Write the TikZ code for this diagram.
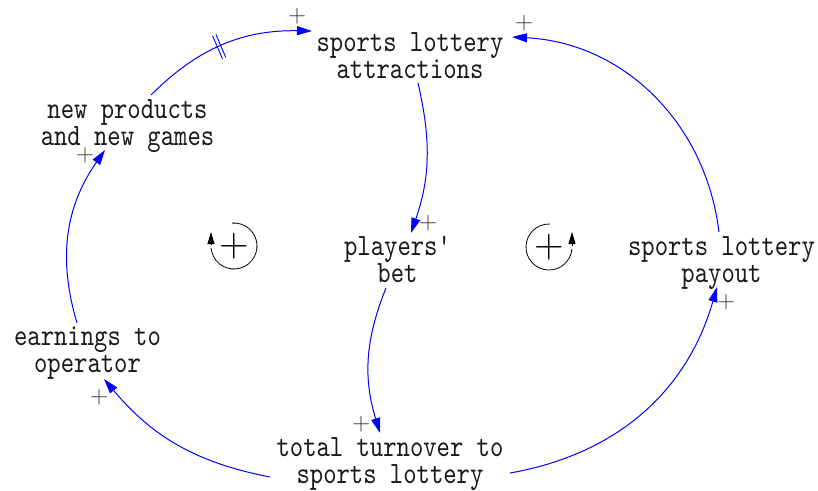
\documentclass[tikz,border=0pt]{standalone}
\usepackage{fontspec}
\usetikzlibrary{arrows.meta,calc,decorations.markings}
\newfontfamily\lblfont{lmmono10-regular.otf}[FakeStretch=0.82]
\newcommand{\lstrut}{\rule[-8pt]{0pt}{27pt}}
\begin{document}
\begin{tikzpicture}[x=1pt,y=1pt,
  var/.style={align=center, inner sep=0pt, text=black!90, font=\lblfont\fontsize{31}{27}\selectfont},
  link/.style={draw=blue, line width=1pt, -{Triangle[length=15pt,width=9pt]}},
  pol/.style={inner sep=0pt, text=black!80, font=\fontsize{25}{25}\selectfont},
  loopsign/.style={inner sep=0pt, font=\fontsize{41}{41}\selectfont},
  looparc/.style={line width=0.8pt},
  looptip/.style={line width=0.8pt, -{Triangle[length=12pt,width=7pt]}},
  delaymark/.style={postaction={decorate, decoration={markings,
     mark=at position #1 with {\draw[blue, line width=0.9pt, -] (-1.8,-12.5)--(-1.8,12.5) (1.8,-12.5)--(1.8,12.5);}}}}
]
\useasboundingbox (0,0) rectangle (818,-490);

% variables
\node[var] (attr)   at (410,-59)    {\lstrut sports lottery\\\lstrut attractions};
\node[var] (newp)   at (127.5,-126) {\lstrut new products\\\lstrut and new games};
\node[var] (bet)    at (397.5,-263) {\lstrut players'\\\lstrut bet};
\node[var] (payout) at (721.5,-263) {\lstrut sports lottery\\\lstrut payout};
\node[var] (earn)   at (87.5,-353.5){\lstrut earnings to\\\lstrut operator};
\node[var] (total)  at (390,-464.5) {\lstrut total turnover to\\\lstrut sports lottery};

% loop identifiers
\node[loopsign] (loopL) at (234,-246) {+};
\draw[looparc] ($(loopL.center)+(95:23)$) arc[start angle=95, end angle=-175, radius=23];
\draw[looptip] ($(loopL.center)+(-23,2)$) -- ++(0,12);
\node[loopsign] (loopR) at (549,-247) {+};
\draw[looparc] ($(loopR.center)+(88:23)$) arc[start angle=88, end angle=355, radius=23];
\draw[looptip] ($(loopR.center)+(23,1)$) -- ++(0,14);

% connectors
\draw[link, delaymark=0.47] ($(newp)+(23.5,31)$) to[out=45,in=179] ($(attr)+(-98,28)$);
\draw[link] ($(attr)+(8,-24)$) to[out=-77,in=71] ($(bet)+(13.5,30)$);
\draw[link] ($(bet)+(-11.5,-25)$) to[out=-112,in=107] ($(total)+(-10,31.5)$);
\draw[link] ($(total)+(-120,-12.5)$) to[out=169,in=-50] ($(earn)+(16.5,-25.5)$);
\draw[link] ($(earn)+(-10.5,30.5)$) to[out=106.5,in=235] ($(newp)+(-22.5,-24)$);
\draw[link] ($(total)+(120,-8.5)$) to[out=10,in=254] ($(payout)+(-4.5,-24)$);
\draw[link] ($(payout)+(-2.5,31)$) to[out=97,in=-3] ($(attr)+(102,22)$);

% polarities
\node[pol] (p1) at (297,-16) {+};
\node[pol] (p2) at (428,-223) {+};
\node[pol] (p3) at (361,-424) {+};
\node[pol] (p4) at (99,-397) {+};
\node[pol] (p5) at (85,-155) {+};
\node[pol] (p6) at (726,-302) {+};
\node[pol] (p7) at (524,-23) {+};
\end{tikzpicture}
\end{document}
